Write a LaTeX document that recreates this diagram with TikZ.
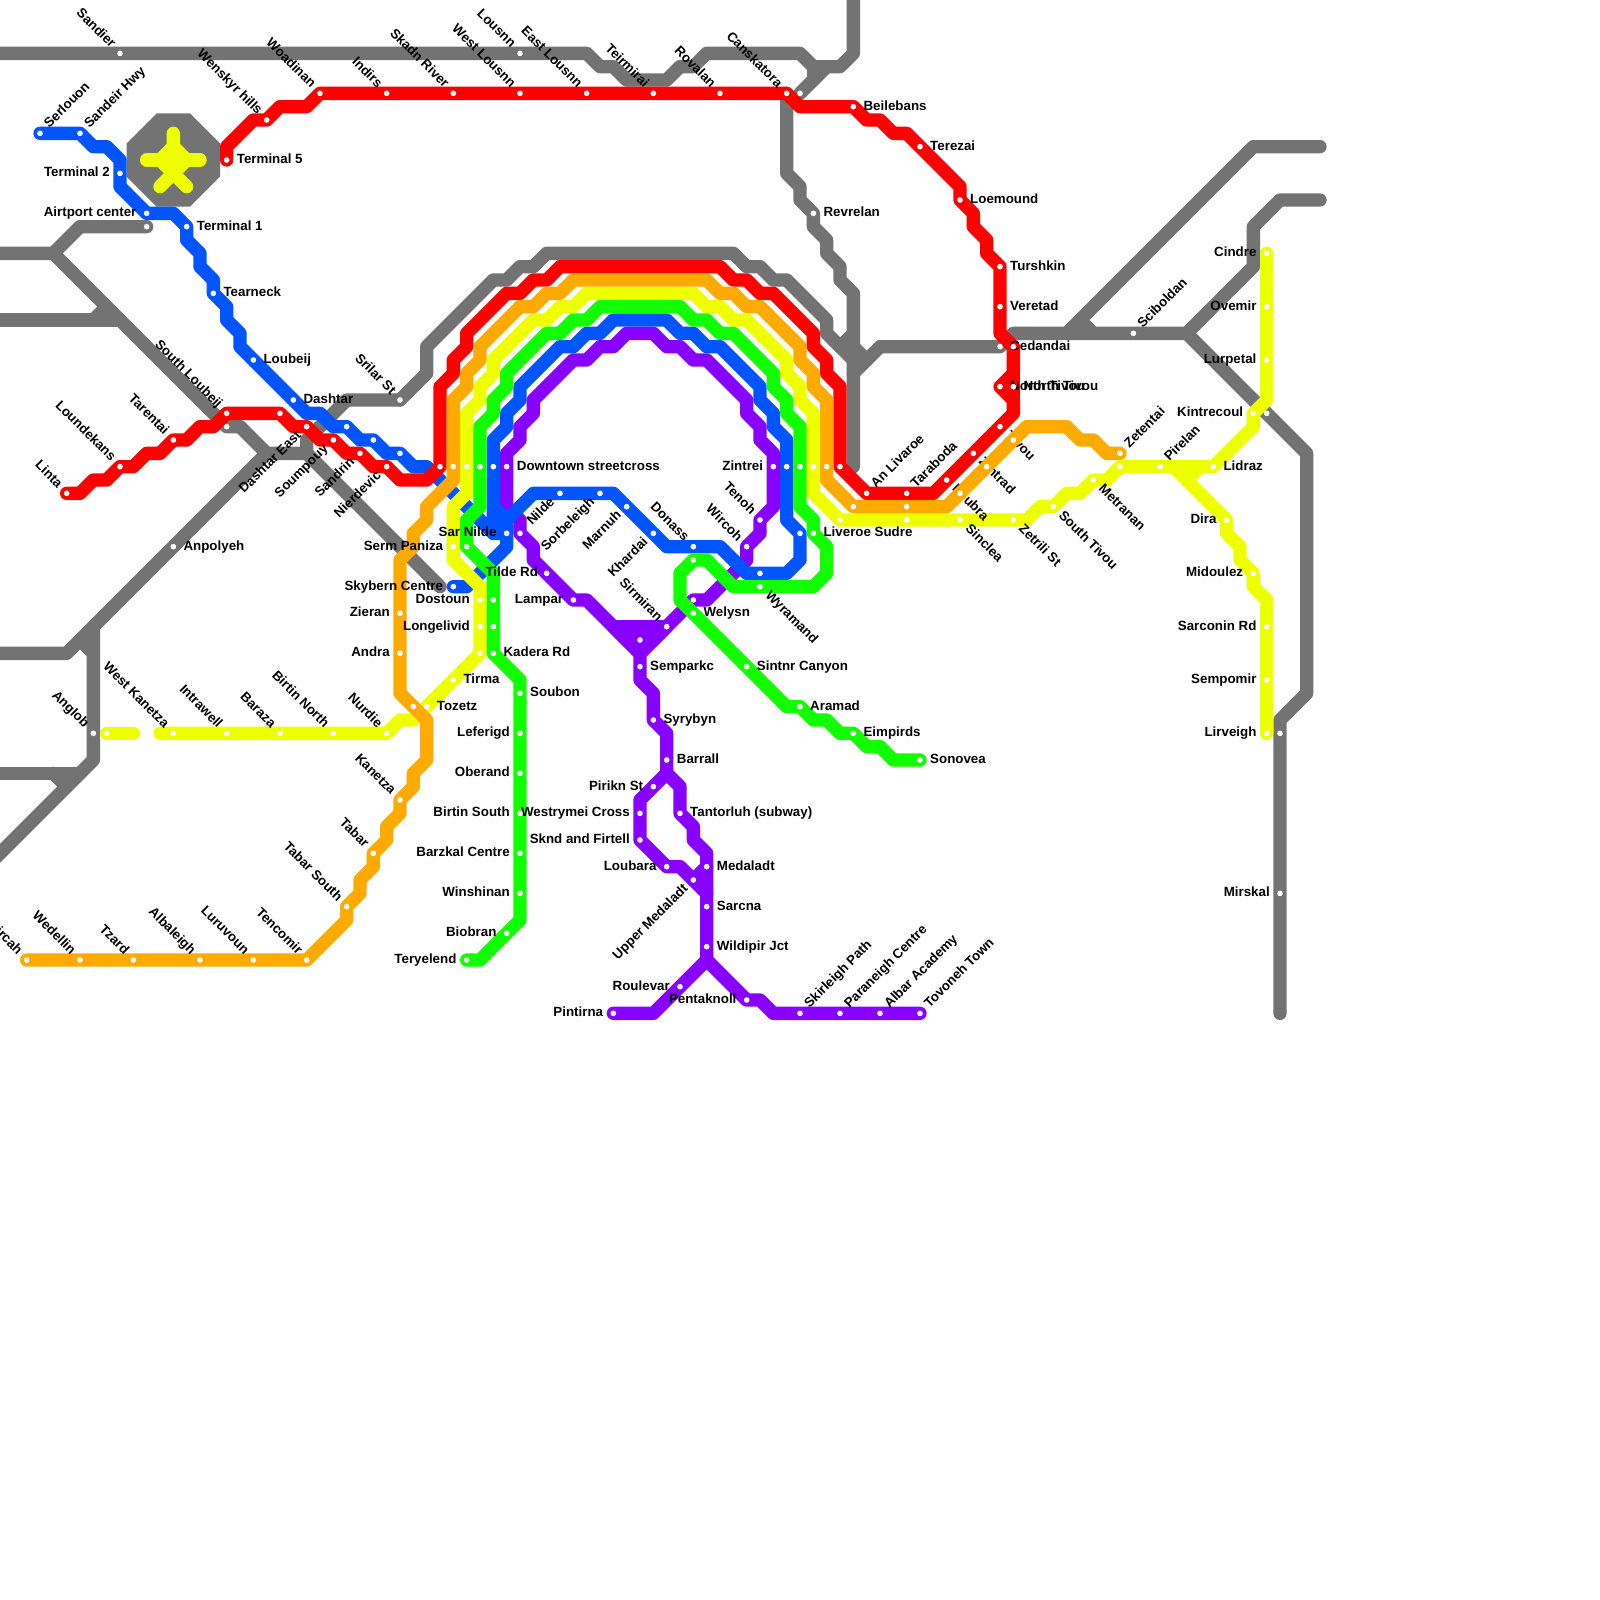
\documentclass[tikz,border=0pt]{standalone}
\usepackage{fontspec}
\setmainfont{Liberation Sans}
\definecolor{metrogray}{HTML}{737373}
\definecolor{metrored}{HTML}{FF0000}
\definecolor{metroorange}{HTML}{FFAA00}
\definecolor{metroyellow}{HTML}{EEFF00}
\definecolor{metrogreen}{HTML}{11FF00}
\definecolor{metroblue}{HTML}{0055FF}
\definecolor{metropurple}{HTML}{8800FF}
\usetikzlibrary{positioning}
\newcommand{\allstops}{
  sandier/9/4, lousnn/39/4, gcansk/60/7, revrelan/61/16, srilar/30/30, gair/11/17, gloub/17/32,
  anpolyeh/13/41, anglob/7/55, cedandai/75/26, sciboldan/85/25, gkint/95/31, gliv/96/55, mirskal/96/67,
  serlouon/3/10, sandeir/6/10, termtwo/9/13, airtport/11/16, termone/14/17, tearneck/16/22, loubeij/19/27,
  dashtar/22/30, bone/26/32, btwo/28/33, bthree/30/34, sarnilde/38/40, skybern/34/44, barcl/37/35,
  nilde/42/37, sorbeleigh/45/37, marnuh/47/38, khardai/49/40, donass/52/41, bfour/57/43, bfive/60/40, barcr/59/35,
  linta/5/37, loundekans/9/35, tarentai/13/33, southl/17/31, rone/21/31, dashtare/23/32, soumpouy/25/33,
  sandrin/27/34, nierdevic/29/35, rarcl/33/35, rarcr/63/35, livaroe/65/37, taraboda/68/37, loubra/71/36,
  zintrad/73/34, tivou/75/32, ntivoua/75/29, ntivoub/76/29, rtwo/76/26, veretad/75/23, turshkin/75/20,
  loemound/72/15, terezai/69/11, beilebans/64/8, canskatora/59/7, rovalan/54/7, teirmirai/49/7, eastl/44/7,
  westl/39/7, skadn/34/7, indirs/29/7, woadinan/24/7, wenskyr/20/9, termfive/17/12,
  ircah/2/72, wedellin/6/72, tzard/10/72, albaleigh/15/72, luruvoun/19/72, tencomir/23/72, tabars/26/68,
  tabar/28/64, kanetza/30/60, oone/31/53, andra/30/49, zieran/30/46, oarcl/34/35, oarcr/62/35, otwo/64/38,
  othree/68/38, ofour/72/37, ofive/74/35, osix/76/33, zetentai/84/34,
  ypiece/8/55, westk/13/55, intrawell/17/55, baraza/21/55, birtinn/25/55, nurdie/29/55, tozetz/32/53, tirma/34/51,
  yone/36/49, longelivid/36/47, dostoun/36/45, sermp/34/41, yarcl/35/35, yarcr/61/35, ytwo/63/39, ythree/68/39,
  sinclea/72/39, zetrili/76/39, southt/79/38, metranan/82/36, yfour/84/35, pirelan/87/35, lidraz/91/35,
  kintrecoul/94/31, lurpetal/95/27, ovemir/95/23, cindre/95/19, dira/92/39, midoulez/94/43, sarconin/95/47,
  sempomir/95/51, lirveigh/95/55,
  teryelend/35/72, biobran/38/70, winshinan/39/67, barzkal/39/64, birtins/39/61, oberand/39/58, leferigd/39/55,
  soubon/39/52, kadera/37/49, gone/37/47, gtwo/37/45, gthree/35/41, garcl/36/35, garcr/60/35, liveroe/61/40,
  wyramand/57/44, gfour/52/42, welysn/52/46, sintnr/56/50, aramad/60/53, eimpirds/64/55, sonovea/69/57,
  pintirna/46/76, roulevar/51/74, wildipir/53/71, sarcna/53/68, medaladt/53/65, tantorluh/51/61, barrall/50/57,
  syrybyn/49/54, semparkc/48/50, pone/48/48, lampar/43/45, ptwo/41/43, pthree/39/40, parcl/38/35, parcr/58/35,
  tenoh/57/39, wircoh/56/41, pfour/52/45, sirmiran/50/47, pirikn/49/59, westrymei/48/61, sknd/48/63, loubara/50/65,
  upperm/52/66, pentaknoll/56/75, skirleigh/60/76, paraneigh/63/76, albar/66/76, tovoneh/69/76
}
\begin{document}
\begin{tikzpicture}[
  x=.4cm, y=-.4cm,
  metro/.style={line width=.4cm, line join=round, line cap=round},
  grayline/.style={metro, metrogray},
  redline/.style={metro, metrored},
  orangeline/.style={metro, metroorange},
  yellowline/.style={metro, metroyellow},
  greenline/.style={metro, metrogreen},
  blueline/.style={metro, metroblue},
  purpleline/.style={metro, metropurple},
  stn/.style={circle, fill=white, inner sep=0pt, minimum size=.17cm},
  lab/.style={font=\fontsize{11.38}{13}\selectfont\bfseries, inner sep=0pt, text=black},
  labe/.style={lab, anchor=base west, shift={(.75,.25)}},
  labw/.style={lab, anchor=base east, shift={(-.75,.25)}},
  labne/.style={lab, anchor=base west, shift={(.7,-.35)}, rotate=45},
  labnw/.style={lab, anchor=base east, shift={(-.7,-.35)}, rotate=-45},
  labse/.style={lab, anchor=base west, shift={(.35,.7)}, rotate=-45},
  labsw/.style={lab, anchor=base east, shift={(-.35,.7)}, rotate=45},
]
  \useasboundingbox (0,0) rectangle (120,120);
  \foreach \n/\x/\y in \allstops {\coordinate (\n) at (\x,\y);}

  % gray network
  \draw[grayline] (-1,4) -- (sandier) -- (lousnn) -- (44,4) -- (45,5) -- (46,5) -- (47,6) -- (50,6) -- (51,5) -- (52,5) -- (53,4) -- (60,4) -- (61,5) -- (63,5) -- (64,4) -- (64,-1);
  \draw[grayline] (61,5) -- (61,6);
  \draw[grayline] (gcansk) -- (62,5);
  \draw[grayline] (canskatora) -- (59,13) -- (60,14) -- (60,15) -- (revrelan) -- (61,17) -- (62,18) -- (62,19) -- (63,20) -- (63,21) -- (64,22) -- (64,35);
  \draw[grayline] (srilar) -- (32,28) -- (32,26) -- (37,21) -- (38,21) -- (39,20) -- (40,20) -- (41,19) -- (55,19) -- (56,20) -- (57,20) -- (58,21) -- (59,21) -- (62,24) -- (62,25) -- (64,27);
  \draw[grayline] (64,25) -- (63,26);
  \draw[grayline] (64,26) -- (65,27);
  \draw[grayline] (64,28) -- (66,26) -- (cedandai) -- (76,25) -- (sciboldan) -- (89,25) -- (94,20) -- (94,17) -- (96,15) -- (99,15);
  \draw[grayline] (80,25) -- (94,11) -- (99,11);
  \draw[grayline] (81,24) -- (82,25);
  \draw[grayline] (89,25) -- (gkint) -- (98,34) -- (98,52) -- (96,54) -- (gliv) -- (mirskal) -- (96,76);
  \draw[grayline] (srilar) -- (26,30) -- (23,33) -- (23,34) -- (20,34) -- (18,32) -- (gloub) -- (4,19) -- (-1,19);
  \draw[grayline] (4,19) -- (6,17) -- (gair);
  \draw[grayline] (20,34) -- (anpolyeh) -- (5,49) -- (-1,49);
  \draw[grayline] (23,34) -- (33,44);
  \draw[grayline] (-1,24) -- (9,24);
  \draw[grayline] (7,24) -- (8,23);
  \draw[grayline] (7,47) -- (anglob) -- (7,57) -- (-1,65);
  \draw[grayline] (6,48) -- (7,49);
  \draw[grayline] (-1,58) -- (6,58);
  \draw[grayline] (4,58) -- (5,59);

  % airport
  \fill[metrogray] (9.5,10.75) -- (11.75,8.5) -- (14.25,8.5) -- (16.5,10.75) -- (16.5,13.25) -- (14.25,15.5) -- (11.75,15.5) -- (9.5,13.25) -- cycle;
  \draw[yellowline] (13,10) -- (13,13) -- (12,14);
  \draw[yellowline] (13,13) -- (14,14);
  \draw[yellowline] (11,12) -- (15,12);
  \draw[yellowline, fill=metroyellow] (12,12) -- (13,11) -- (14,12) -- (13,13) -- cycle;

  % purple
  \draw[purpleline] (pintirna) -- (49,76) -- (roulevar) -- (53,72) -- (wildipir) -- (sarcna) -- (medaladt) -- (53,64) -- (52,63) -- (52,62) -- (tantorluh) -- (51,59) -- (50,58) -- (barrall) -- (50,55) -- (syrybyn) -- (49,52) -- (48,51) -- (semparkc) -- (48,49) -- (46,47) -- (44,45) -- (lampar) -- (ptwo) -- (40,42) -- (40,41) -- (pthree) -- (39,39) -- (38,38) -- (parcl) -- (38,34) -- (39,33) -- (39,32) -- (40,31) -- (40,30) -- (43,27) -- (44,27) -- (45,26) -- (46,26) -- (47,25) -- (49,25) -- (50,26) -- (51,26) -- (52,27) -- (53,27) -- (56,30) -- (56,31) -- (57,32) -- (57,33) -- (58,34) -- (parcr) -- (58,38) -- (tenoh) -- (57,40) -- (wircoh) -- (56,42) -- (53,45) -- (pfour) -- (sirmiran) -- (48,49);
  \draw[purpleline, fill=metropurple] (46,47) -- (sirmiran) -- (48,49) -- cycle;
  \draw[purpleline] (50,58) -- (pirikn) -- (48,60) -- (westrymei) -- (sknd) -- (loubara) -- (51,65) -- (upperm) -- (53,67);
  \draw[purpleline] (medaladt) -- (upperm);
  \draw[purpleline] (53,72) -- (pentaknoll) -- (57,75) -- (58,76) -- (skirleigh) -- (paraneigh) -- (albar) -- (tovoneh);

  % blue
  \draw[blueline] (serlouon) -- (sandeir) -- (7,11) -- (8,11) -- (9,12) -- (termtwo) -- (9,14) -- (airtport) -- (13,16) -- (termone) -- (14,18) -- (15,19) -- (15,20) -- (16,21) -- (tearneck) -- (17,23) -- (17,24) -- (18,25) -- (18,26) -- (loubeij) -- (dashtar) -- (23,31) -- (24,31) -- (25,32) -- (bone) -- (27,33) -- (btwo) -- (29,34) -- (bthree) -- (31,35) -- (32,35) -- (37,40) -- (sarnilde) -- (38,41) -- (35,44) -- (skybern);
  \draw[blueline] (38,39) -- (40,37) -- (nilde) -- (sorbeleigh) -- (46,37) -- (marnuh) -- (khardai) -- (50,41) -- (donass) -- (54,41) -- (56,43) -- (bfour) -- (59,43) -- (60,42) -- (bfive) -- (59,39) -- (barcr) -- (59,33) -- (58,32) -- (58,31) -- (57,30) -- (57,29) -- (54,26) -- (53,26) -- (52,25) -- (51,25) -- (50,24) -- (46,24) -- (45,25) -- (44,25) -- (43,26) -- (42,26) -- (39,29) -- (39,30) -- (38,31) -- (38,32) -- (37,33) -- (barcl) -- (37,40);
  \draw[blueline] (37,38) -- (38,39) -- (sarnilde);

  % red
  \draw[redline] (linta) -- (6,37) -- (7,36) -- (8,36) -- (loundekans) -- (10,35) -- (11,34) -- (12,34) -- (tarentai) -- (14,33) -- (15,32) -- (16,32) -- (southl) -- (rone) -- (22,32) -- (dashtare) -- (24,33) -- (soumpouy) -- (26,34) -- (sandrin) -- (28,35) -- (nierdevic) -- (30,36) -- (32,36) -- (rarcl) -- (33,29) -- (34,28) -- (34,27) -- (35,26) -- (35,25) -- (38,22) -- (39,22) -- (40,21) -- (41,21) -- (42,20) -- (54,20) -- (55,21) -- (56,21) -- (57,22) -- (58,22) -- (61,25) -- (61,26) -- (62,27) -- (62,28) -- (63,29) -- (rarcr) -- (livaroe) -- (taraboda) -- (70,37) -- (loubra) -- (zintrad) -- (tivou) -- (76,31) -- (76,30) -- (ntivoua) -- (76,28) -- (rtwo) -- (75,25) -- (veretad) -- (turshkin) -- (74,19) -- (74,18) -- (73,17) -- (73,16) -- (loemound) -- (72,14) -- (terezai) -- (68,10) -- (67,10) -- (66,9) -- (65,9) -- (beilebans) -- (60,8) -- (canskatora) -- (rovalan) -- (teirmirai) -- (eastl) -- (westl) -- (skadn) -- (indirs) -- (woadinan) -- (23,8) -- (21,8) -- (wenskyr) -- (19,9) -- (17,11) -- (termfive);
  \draw[redline] (76,28) -- (ntivoub) -- (76,30);

  % yellow
  \draw[yellowline] (ypiece) -- (10,55);
  \draw[yellowline] (12,55) -- (westk) -- (intrawell) -- (baraza) -- (birtinn) -- (nurdie) -- (30,54) -- (31,54) -- (tozetz) -- (tirma) -- (yone) -- (longelivid) -- (dostoun) -- (36,44) -- (34,42) -- (sermp) -- (34,38) -- (35,37) -- (yarcl) -- (35,31) -- (36,30) -- (36,29) -- (37,28) -- (37,27) -- (40,24) -- (41,24) -- (42,23) -- (43,23) -- (44,22) -- (52,22) -- (53,23) -- (54,23) -- (55,24) -- (56,24) -- (59,27) -- (59,28) -- (60,29) -- (60,30) -- (61,31) -- (yarcr) -- (61,37) -- (ytwo) -- (ythree) -- (sinclea) -- (zetrili) -- (77,39) -- (78,38) -- (southt) -- (80,37) -- (81,37) -- (metranan) -- (83,36) -- (yfour) -- (pirelan) -- (lidraz) -- (94,32) -- (kintrecoul) -- (95,30) -- (lurpetal) -- (ovemir) -- (cindre);
  \draw[yellowline] (88,35) -- (dira) -- (92,40) -- (93,41) -- (93,42) -- (midoulez) -- (94,44) -- (95,45) -- (sarconin) -- (sempomir) -- (lirveigh);
  \draw[yellowline] (90,35) -- (89,36);

  % red labels
  \foreach \n/\pos/\txt in {
    linta/labnw/Linta, loundekans/labnw/Loundekans, tarentai/labnw/Tarentai, southl/labnw/South Loubeij,
    dashtare/labsw/Dashtar East, soumpouy/labsw/Soumpouy, sandrin/labsw/Sandrin, nierdevic/labsw/Nierdevic,
    livaroe/labne/An Livaroe, taraboda/labne/Taraboda, loubra/labse/Loubra, zintrad/labse/Zintrad, tivou/labse/Tivou,
    ntivoua/labe/North Tivou, ntivoub/labe/North Tivou, veretad/labe/Veretad, turshkin/labe/Turshkin,
    loemound/labe/Loemound, terezai/labe/Terezai, beilebans/labe/Beilebans, canskatora/labnw/Canskatora,
    rovalan/labnw/Rovalan, teirmirai/labnw/Teirmirai, eastl/labnw/East Lousnn, westl/labnw/West Lousnn,
    skadn/labnw/Skadn River, indirs/labnw/Indirs, woadinan/labnw/Woadinan, wenskyr/labnw/Wenskyr hills,
    termfive/labe/Terminal 5} {
    \node[\pos] (l\n) at (\n) {\txt};
  }

  % orange
  \draw[orangeline] (ircah) -- (wedellin) -- (tzard) -- (albaleigh) -- (luruvoun) -- (tencomir) -- (26,69) -- (tabars) -- (27,67) -- (27,66) -- (28,65) -- (tabar) -- (29,63) -- (29,62) -- (30,61) -- (kanetza) -- (31,59) -- (31,58) -- (32,57) -- (32,54) -- (oone) -- (30,52) -- (andra) -- (zieran) -- (30,42) -- (31,41) -- (31,40) -- (32,39) -- (32,38) -- (34,36) -- (oarcl) -- (34,30) -- (35,29) -- (35,28) -- (36,27) -- (36,26) -- (39,23) -- (40,23) -- (41,22) -- (42,22) -- (43,21) -- (53,21) -- (54,22) -- (55,22) -- (56,23) -- (57,23) -- (60,26) -- (60,27) -- (61,28) -- (61,29) -- (62,30) -- (oarcr) -- (62,36) -- (otwo) -- (othree) -- (71,38) -- (ofour) -- (ofive) -- (osix) -- (77,32) -- (80,32) -- (81,33) -- (82,33) -- (83,34) -- (zetentai);

  % green
  \draw[greenline] (teryelend) -- (36,72) -- (biobran) -- (39,69) -- (winshinan) -- (barzkal) -- (birtins) -- (oberand) -- (leferigd) -- (soubon) -- (39,51) -- (kadera) -- (gone) -- (gtwo) -- (37,43) -- (gthree) -- (35,39) -- (36,38) -- (garcl) -- (36,32) -- (37,31) -- (37,30) -- (38,29) -- (38,28) -- (41,25) -- (42,25) -- (43,24) -- (44,24) -- (45,23) -- (51,23) -- (52,24) -- (53,24) -- (54,25) -- (55,25) -- (58,28) -- (58,29) -- (59,30) -- (59,31) -- (60,32) -- (garcr) -- (60,38) -- (61,39) -- (liveroe) -- (62,41) -- (62,43) -- (61,44) -- (wyramand) -- (55,44) -- (53,42) -- (gfour) -- (51,43) -- (51,45) -- (welysn) -- (sintnr) -- (59,53) -- (aramad) -- (61,54) -- (62,54) -- (63,55) -- (eimpirds) -- (65,56) -- (66,56) -- (67,57) -- (sonovea);

  % remaining labels
  \foreach \n/\pos/\txt in {
    sandier/labnw/Sandier, lousnn/labnw/Lousnn, revrelan/labe/Revrelan, srilar/labnw/Srilar St, anpolyeh/labe/Anpolyeh,
    anglob/labnw/Anglob, cedandai/labe/Cedandai, sciboldan/labne/Sciboldan, mirskal/labw/Mirskal,
    serlouon/labne/Serlouon, sandeir/labne/Sandeir Hwy, termtwo/labw/Terminal 2, airtport/labw/Airtport center,
    termone/labe/Terminal 1, tearneck/labe/Tearneck, loubeij/labe/Loubeij, dashtar/labe/Dashtar, sarnilde/labw/Sar Nilde,
    skybern/labw/Skybern Centre, nilde/labsw/Nilde, sorbeleigh/labsw/Sorbeleigh, marnuh/labsw/Marnuh, khardai/labsw/Khardai,
    donass/labnw/Donass, ircah/labnw/ircah, wedellin/labnw/Wedellin, tzard/labnw/Tzard, albaleigh/labnw/Albaleigh,
    luruvoun/labnw/Luruvoun, tencomir/labnw/Tencomir, tabars/labnw/Tabar South, tabar/labnw/Tabar, kanetza/labnw/Kanetza,
    andra/labw/Andra, zieran/labw/Zieran, zetentai/labne/Zetentai, westk/labnw/West Kanetza, intrawell/labnw/Intrawell,
    baraza/labnw/Baraza, birtinn/labnw/Birtin North, nurdie/labnw/Nurdie, tozetz/labe/Tozetz, tirma/labe/Tirma,
    longelivid/labw/Longelivid, dostoun/labw/Dostoun, sermp/labw/Serm Paniza, sinclea/labse/Sinclea, zetrili/labse/Zetrili St,
    southt/labse/South Tivou, metranan/labse/Metranan, pirelan/labne/Pirelan, lidraz/labe/Lidraz, kintrecoul/labw/Kintrecoul,
    lurpetal/labw/Lurpetal, ovemir/labw/Ovemir, cindre/labw/Cindre, dira/labw/Dira, midoulez/labw/Midoulez,
    sarconin/labw/Sarconin Rd, sempomir/labw/Sempomir, lirveigh/labw/Lirveigh,
    teryelend/labw/Teryelend, biobran/labw/Biobran, winshinan/labw/Winshinan, barzkal/labw/Barzkal Centre,
    birtins/labw/Birtin South, oberand/labw/Oberand, leferigd/labw/Leferigd, soubon/labe/Soubon, kadera/labe/Kadera Rd,
    liveroe/labe/Liveroe Sudre, wyramand/labse/Wyramand, welysn/labe/Welysn, sintnr/labe/Sintnr Canyon, aramad/labe/Aramad,
    eimpirds/labe/Eimpirds, sonovea/labe/Sonovea,
    pintirna/labw/Pintirna, roulevar/labw/Roulevar, wildipir/labe/Wildipir Jct, sarcna/labe/Sarcna, medaladt/labe/Medaladt,
    tantorluh/labe/Tantorluh (subway), barrall/labe/Barrall, syrybyn/labe/Syrybyn, semparkc/labe/Semparkc, lampar/labw/Lampar,
    tenoh/labnw/Tenoh, wircoh/labnw/Wircoh, sirmiran/labnw/Sirmiran, pirikn/labw/Pirikn St,
    westrymei/labw/Westrymei Cross, sknd/labw/Sknd and Firtell, loubara/labw/Loubara, upperm/labsw/Upper Medaladt,
    pentaknoll/labw/Pentaknoll, skirleigh/labne/Skirleigh Path, paraneigh/labne/Paraneigh Centre, albar/labne/Albar Academy,
    tovoneh/labne/Tovoneh Town, parcl/labe/Downtown streetcross, parcr/labw/Zintrei} {
    \node[\pos] (l\n) at (\n) {\txt};
  }
  \node[lab, anchor=base west] (ltilde) at (36.4,43.25) {Tilde Rd};

  % stations on top
  \foreach \n/\x/\y in \allstops {\node[stn] (d\n) at (\n) {};}
\end{tikzpicture}
\end{document}
